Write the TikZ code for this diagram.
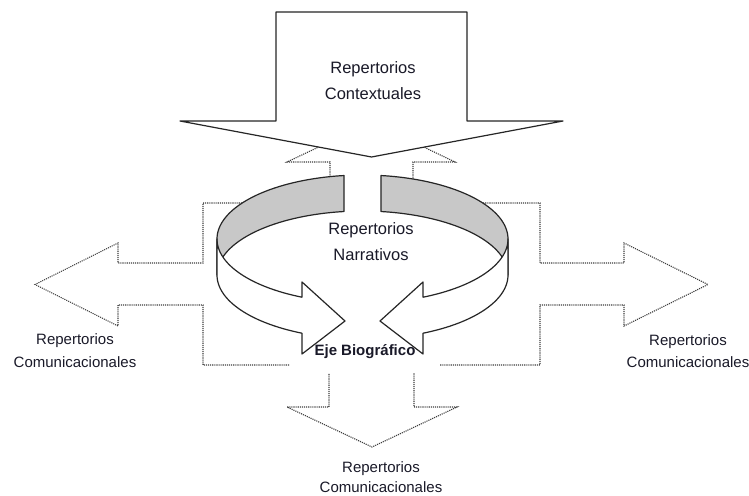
\documentclass[tikz,border=0pt]{standalone}
\usepackage{fontspec}
\setmainfont{Liberation Sans}
\definecolor{shade}{RGB}{200,200,200}
\definecolor{dotc}{RGB}{60,60,60}
\definecolor{txt}{RGB}{25,25,40}
\begin{document}
\begin{tikzpicture}[x=1pt,y=-1pt,
  dotshape/.style={fill=white,draw=dotc,densely dotted,line width=1.1pt},
  solidshape/.style={draw=black!85,line width=1.2pt,line join=round},
  lbig/.style={text=txt,align=center,inner sep=0pt,font=\fontsize{16.5}{26}\selectfont},
  lsmall/.style={text=txt,align=center,inner sep=0pt,font=\fontsize{15}{22.5}\selectfont}]
\useasboundingbox (0,0) rectangle (749,495);
\def\cx{362.5}\def\ra{145.5}\def\rb{64}\def\cyt{239}\def\cyb{275}
% dotted cross of four block arrows
\path[dotshape] (203,203) -- (330,203) -- (330,162) -- (287,162) -- (371.5,122)
  -- (455,162) -- (413,162) -- (413,203) -- (540,203) -- (540,263) -- (624,263)
  -- (624,243) -- (708,284.5) -- (624,326) -- (624,305) -- (540,305) -- (540,365)
  -- (414,365) -- (414,407) -- (457,407) -- (372,447) -- (287,407) -- (329,407)
  -- (329,365) -- (203,365) -- (203,305) -- (118,305) -- (118,326) -- (35,284.5)
  -- (118,243) -- (118,263) -- (203,263) -- cycle;
\fill[white] (290,337) rectangle (440,373);
% top arrow
\path[solidshape,fill=white] (276,12) -- (467,12) -- (467,121) -- (563,121)
  -- (371.5,157) -- (180,121) -- (276,121) -- cycle;
% ring, left half
\path[solidshape,fill=shade] plot[domain=97.3:180,samples=50,variable=\t]
  ({\cx+\ra*cos(\t)},{\cyt-\rb*sin(\t)})
  -- plot[domain=180:97.3,samples=50,variable=\t] ({\cx+\ra*cos(\t)},{\cyb-\rb*sin(\t)}) -- cycle;
\path[solidshape,fill=white] plot[domain=180:245.4,samples=50,variable=\t]
  ({\cx+\ra*cos(\t)},{\cyt-\rb*sin(\t)})
  -- (302,282) -- (345,321) -- (302,354)
  -- plot[domain=245.4:180,samples=50,variable=\t] ({\cx+\ra*cos(\t)},{\cyb-\rb*sin(\t)}) -- cycle;
% ring, right half
\path[solidshape,fill=shade] plot[domain=82.7:0,samples=50,variable=\t]
  ({\cx+\ra*cos(\t)},{\cyt-\rb*sin(\t)})
  -- plot[domain=0:82.7,samples=50,variable=\t] ({\cx+\ra*cos(\t)},{\cyb-\rb*sin(\t)}) -- cycle;
\path[solidshape,fill=white] plot[domain=0:-65.4,samples=50,variable=\t]
  ({\cx+\ra*cos(\t)},{\cyt-\rb*sin(\t)})
  -- (423,282) -- (380,321) -- (423,354)
  -- plot[domain=-65.4:0,samples=50,variable=\t] ({\cx+\ra*cos(\t)},{\cyb-\rb*sin(\t)}) -- cycle;
% labels
\node[lbig] (ctx) at (373,81) {Repertorios\\Contextuales};
\node[lbig] (nar) at (371,242) {Repertorios\\Narrativos};
\node[lsmall] (cl) at (75,350.5) {Repertorios\\Comunicacionales};
\node[lsmall] (cr) at (688,351) {Repertorios\\Comunicacionales};
\node[lsmall,font=\fontsize{15}{20}\selectfont] (cb) at (381,477) {Repertorios\\Comunicacionales};
\node[text=txt,inner sep=0pt,font=\fontsize{15}{18}\selectfont\bfseries] (eje) at (365,352) {Eje Biográfico};
\end{tikzpicture}
\end{document}
